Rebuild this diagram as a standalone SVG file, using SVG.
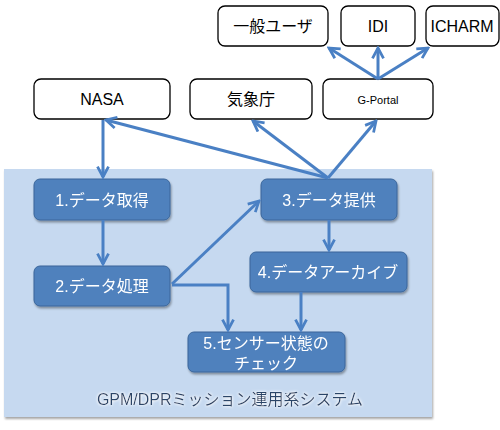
<svg xmlns="http://www.w3.org/2000/svg" width="500" height="430" viewBox="0 0 500 430">
<style>
.ext rect{fill:#fff;stroke:#000;stroke-width:1.3}
.ext text{font-family:"Liberation Sans","Noto Sans CJK JP",sans-serif;font-size:16px;fill:#000;text-anchor:middle}
.int rect{fill:#4F81BD;stroke:#3A659A;stroke-width:1}
.int text{font-family:"Liberation Sans","Noto Sans CJK JP",sans-serif;font-size:16px;fill:#fff;text-anchor:middle}
.conn path{fill:none;stroke:#4A80C4;stroke-width:3;marker-end:url(#ah)}
</style>
<defs>
<marker id="ah" viewBox="0 0 10 10" refX="8.5" refY="5" markerWidth="4.6" markerHeight="4.6" orient="auto" markerUnits="strokeWidth">
<polyline points="1,1 8.5,5 1,9" fill="none" stroke="#4A80C4" stroke-width="2"/>
</marker>
<filter id="sh" x="-10%" y="-10%" width="130%" height="140%">
<feDropShadow dx="1" dy="2" stdDeviation="1.2" flood-color="#000" flood-opacity="0.35"/>
</filter>
<filter id="glow" x="-5%" y="-30%" width="110%" height="160%">
<feGaussianBlur in="SourceAlpha" stdDeviation="1.5" result="b"/>
<feFlood flood-color="#fff" flood-opacity="0.9"/>
<feComposite in2="b" operator="in" result="g"/>
<feMerge><feMergeNode in="g"/><feMergeNode in="g"/><feMergeNode in="SourceGraphic"/></feMerge>
</filter>
</defs>
<rect width="500" height="430" fill="#fff"/>
<g id="panel">
<rect x="4" y="169" width="428" height="248" fill="#C6D9F0" filter="url(#sh)"/>
<text x="230" y="405" font-family="Liberation Sans,Noto Sans CJK JP,sans-serif" font-size="16" fill="#2B4468" text-anchor="middle" filter="url(#glow)">GPM/DPRミッション運用系システム</text>
</g>
<g id="n-user" class="ext"><rect x="218" y="6" width="110" height="40" rx="7"/><text x="273" y="32">一般ユーザ</text></g>
<g id="n-idi" class="ext"><rect x="341" y="6" width="74" height="40" rx="7"/><text x="378" y="32">IDI</text></g>
<g id="n-icharm" class="ext"><rect x="426" y="6" width="73" height="40" rx="7"/><text x="462" y="32">ICHARM</text></g>
<g id="n-nasa" class="ext"><rect x="34" y="79" width="136" height="40" rx="7"/><text x="102" y="105">NASA</text></g>
<g id="n-jma" class="ext"><rect x="190" y="79" width="122" height="40" rx="7"/><text x="251" y="105">気象庁</text></g>
<g id="n-gportal" class="ext"><rect x="323" y="79" width="110" height="40" rx="7"/><text x="378" y="104" style="font-size:11px">G-Portal</text></g>
<g id="n1" class="int" filter="url(#sh)"><rect x="34" y="179" width="136" height="41" rx="6"/><text x="102" y="206">1.データ取得</text></g>
<g id="n2" class="int" filter="url(#sh)"><rect x="34" y="266" width="136" height="40" rx="6"/><text x="102" y="292">2.データ処理</text></g>
<g id="n3" class="int" filter="url(#sh)"><rect x="261" y="179" width="136" height="41" rx="6"/><text x="329" y="206">3.データ提供</text></g>
<g id="n4" class="int" filter="url(#sh)"><rect x="250" y="252" width="157" height="40" rx="6"/><text x="328" y="278">4.データアーカイブ</text></g>
<g id="n5" class="int" filter="url(#sh)"><rect x="188" y="332" width="157" height="40" rx="6"/><text x="266" y="349">5.センサー状態の</text><text x="266" y="369">チェック</text></g>
<g id="connectors" class="conn">
<path d="M378,79 L329,48"/>
<path d="M378,79 L378,48"/>
<path d="M378,79 L428,48"/>
<path d="M328,178 L106,120"/>
<path d="M328,178 L253,121"/>
<path d="M328,178 L376,121"/>
<path d="M103,120 L103,177"/>
<path d="M103,220 L103,264"/>
<path d="M172,284 L259,201"/>
<path d="M172,285 L228,285 L228,330"/>
<path d="M329,220 L329,250"/>
<path d="M301,292 L301,330"/>
</g>
</svg>
